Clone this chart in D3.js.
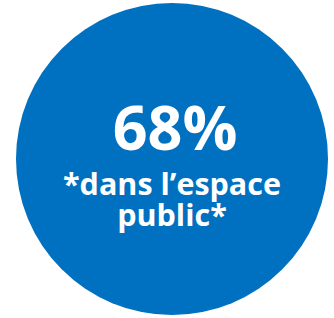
<!DOCTYPE html>
<html>
<head>
<meta charset="utf-8">
<script src="https://cdn.jsdelivr.net/npm/d3@7"></script>
<style>
html, body { margin: 0; padding: 0; background: #fff; }
svg { display: block; }
</style>
</head>
<body>
<svg width="334" height="318"></svg>
<script>
var value = [68];
var subLines = ["*dans l\u2019espace", "public*"];

var svg = d3.select("svg"),
	width = +svg.attr("width"),
	height = +svg.attr("height");

var cx = 172, cy = 159, r = 156;

var g = svg.append("g");

g.selectAll("circle")
	.data(value).enter()
	.append("circle")
	.attr("cx", cx)
	.attr("cy", cy)
	.attr("r", r)
	.attr("fill", "#0070c0");

g.append("text")
	.attr("x", cx + 3)
	.attr("y", 150)
	.attr("text-anchor", "middle")
	.attr("fill", "#fff")
	.attr("font-family", "'Open Sans', sans-serif")
	.attr("font-weight", "bold")
	.attr("font-size", 61)
	.text(value[0] + "%");

g.selectAll(".sub")
	.data(subLines).enter()
	.append("text")
	.attr("class", "sub")
	.attr("x", cx)
	.attr("y", function(d, i) { return 195 + i * 31; })
	.attr("text-anchor", "middle")
	.attr("fill", "#fff")
	.attr("font-family", "'Open Sans', sans-serif")
	.attr("font-weight", "bold")
	.attr("font-size", 30.5)
	.text(function(d) { return d; });
</script>
</body>
</html>
